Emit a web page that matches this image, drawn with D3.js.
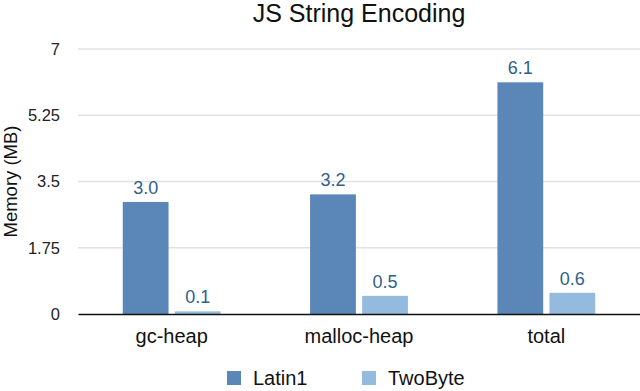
<!DOCTYPE html>
<html>
<head>
<meta charset="utf-8">
<script src="https://cdn.jsdelivr.net/npm/d3@7"></script>
<style>
  body { margin: 0; background: #fff; }
  svg text { font-family: "Liberation Sans", Arial, Helvetica, sans-serif; }
</style>
</head>
<body>
<div id="chart"></div>
<script>
// chart data
var categories = ["gc-heap", "malloc-heap", "total"];
var seriesNames = ["Latin1", "TwoByte"];
var latin1 = [2.96, 3.16, 6.12];
var twoByte = [0.07, 0.48, 0.56];
var yTicks = [0, 1.75, 3.5, 5.25, 7];

var colors = ["#5b86b8", "#94bbde"];

var width = 640, height = 391;
var margin = {top: 49, right: 0, bottom: 77, left: 78};
var innerW = width - margin.left - margin.right,
    innerH = height - margin.top - margin.bottom;

var svg = d3.select("#chart").append("svg")
  .attr("width", width)
  .attr("height", height);

var g = svg.append("g")
  .attr("transform", "translate(" + margin.left + "," + margin.top + ")");

// scales
var x = d3.scaleBand()
  .domain(categories)
  .range([0, innerW])
  .paddingInner(0)
  .paddingOuter(0);

var groupPad = 44.75;
var x1 = d3.scaleBand()
  .domain(seriesNames)
  .range([groupPad, x.bandwidth() - groupPad])
  .paddingInner(0.12);

var y = d3.scaleLinear()
  .domain([0, 7])
  .range([innerH, 0]);

// gridlines
g.append("g")
  .selectAll("line")
  .data(yTicks.filter(function(d) { return d > 0; }))
  .enter().append("line")
  .attr("x1", 0)
  .attr("x2", innerW)
  .attr("y1", function(d) { return y(d); })
  .attr("y2", function(d) { return y(d); })
  .attr("stroke", "#e2e2e2")
  .attr("stroke-width", 1.5);

// y axis labels
var yAxis = g.append("g")
  .call(d3.axisLeft(y).tickValues(yTicks).tickSize(0).tickPadding(18)
    .tickFormat(function(d) { return d; }));
yAxis.select(".domain").remove();
yAxis.selectAll("text")
  .attr("font-size", 16.5)
  .attr("fill", "#222")
  .style("font-family", "Liberation Sans, Arial, sans-serif");

// bars
var rows = categories.map(function(c, i) {
  return {cat: c, vals: [latin1[i], twoByte[i]]};
});

var groups = g.selectAll(".grp")
  .data(rows)
  .enter().append("g")
  .attr("class", "grp")
  .attr("transform", function(d) { return "translate(" + x(d.cat) + ",0)"; });

groups.selectAll("rect")
  .data(function(d) { return d.vals.map(function(v, j) { return {s: seriesNames[j], v: v, j: j}; }); })
  .enter().append("rect")
  .attr("x", function(d) { return x1(d.s); })
  .attr("width", x1.bandwidth())
  .attr("y", function(d) { return y(d.v); })
  .attr("height", function(d) { return innerH - y(d.v); })
  .attr("fill", function(d) { return colors[d.j]; });

groups.selectAll(".val")
  .data(function(d) { return d.vals.map(function(v, j) { return {s: seriesNames[j], v: v}; }); })
  .enter().append("text")
  .attr("class", "val")
  .attr("x", function(d) { return x1(d.s) + x1.bandwidth() / 2; })
  .attr("y", function(d) { return y(d.v) - 8; })
  .attr("text-anchor", "middle")
  .attr("font-size", 18)
  .attr("fill", "#2f5f8c")
  .text(function(d) { return d3.format(".1f")(d.v); });

// x axis
var xAxis = g.append("g")
  .attr("transform", "translate(0," + innerH + ")")
  .call(d3.axisBottom(x).tickSize(0).tickPadding(15));
xAxis.select(".domain")
  .attr("stroke", "#111")
  .attr("stroke-width", 1.5);
xAxis.selectAll("text")
  .attr("font-size", 20)
  .attr("fill", "#111")
  .style("font-family", "Liberation Sans, Arial, sans-serif");

// title
svg.append("text")
  .attr("x", margin.left + innerW / 2)
  .attr("y", 22)
  .attr("text-anchor", "middle")
  .attr("font-size", 25)
  .attr("fill", "#111")
  .text("JS String Encoding");

// y axis title
svg.append("text")
  .attr("transform", "translate(17," + (margin.top + innerH / 2) + ") rotate(-90)")
  .attr("text-anchor", "middle")
  .attr("font-size", 18.5)
  .attr("fill", "#111")
  .text("Memory (MB)");

// legend
var legendX = [227, 362];
var legend = svg.selectAll(".leg")
  .data(seriesNames)
  .enter().append("g")
  .attr("class", "leg")
  .attr("transform", function(d, i) { return "translate(" + legendX[i] + ",371)"; });
legend.append("rect")
  .attr("width", 14)
  .attr("height", 14)
  .attr("fill", function(d, i) { return colors[i]; });
legend.append("text")
  .attr("x", 26)
  .attr("y", 14)
  .attr("font-size", 20)
  .attr("fill", "#111")
  .text(function(d) { return d; });
</script>
</body>
</html>
